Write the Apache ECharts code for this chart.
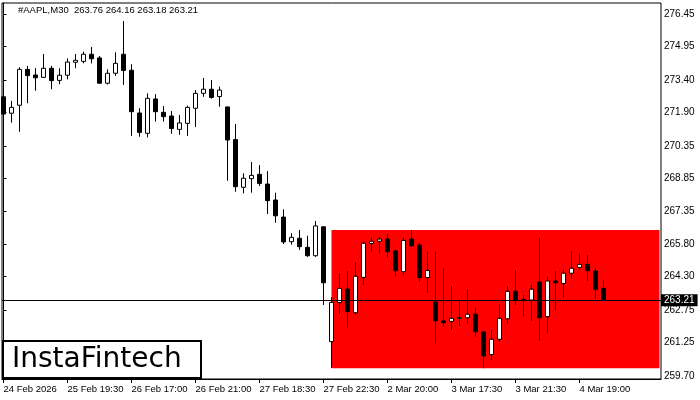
<!DOCTYPE html>
<html>
<head>
<meta charset="utf-8">
<script src="https://cdn.jsdelivr.net/npm/echarts@6/dist/echarts.min.js"></script>
<style>
  html, body { margin: 0; padding: 0; background: #fff; }
  #chart { width: 700px; height: 400px; }
</style>
</head>
<body>
<div id="chart"></div>
<script>
// AAPL M30 candles
var openPrices = [
  272.63, 271.87, 272.24, 273.90, 273.64, 273.53, 273.95, 273.39, 273.63, 274.23,
  274.27, 274.60, 274.43, 273.26, 273.72, 274.60, 273.86, 271.88, 270.94, 272.53,
  271.91, 271.74, 271.12, 271.40, 272.10, 272.79, 272.98, 272.64, 272.16, 270.65,
  268.44, 268.84, 269.04, 268.59, 267.85, 267.06, 265.92, 266.08, 265.66, 265.27,
  266.61, 261.29, 263.10, 263.72, 262.63, 264.27, 265.84, 265.94, 266.04, 265.49,
  264.53, 266.04, 265.76, 264.26, 263.13, 262.25, 262.23, 262.38, 262.40, 262.56,
  261.74, 260.69, 261.40, 262.35, 263.62, 263.24, 263.22, 264.05, 262.45, 264.10,
  263.99, 264.46, 264.73, 264.87, 264.56, 263.76
];
var highPrices = [
  272.67, 272.44, 274.00, 274.06, 273.96, 274.61, 274.06, 273.95, 274.41, 274.61,
  274.72, 274.94, 274.52, 273.90, 274.69, 276.14, 274.14, 272.10, 272.79, 272.75,
  272.20, 271.97, 271.79, 272.22, 272.94, 273.50, 273.41, 273.10, 272.18, 271.37,
  269.09, 269.61, 269.47, 269.19, 268.19, 267.42, 266.31, 266.46, 266.20, 266.88,
  266.63, 263.35, 264.46, 264.56, 264.97, 265.91, 266.11, 266.13, 266.28, 265.55,
  266.12, 266.46, 265.86, 265.47, 265.47, 264.69, 263.87, 263.22, 263.72, 262.88,
  261.78, 261.83, 263.03, 263.87, 264.61, 263.45, 263.91, 266.10, 264.30, 264.56,
  264.64, 265.49, 265.38, 265.30, 264.72, 264.16
];
var lowPrices = [
  271.32, 271.43, 271.01, 272.33, 272.91, 273.50, 272.98, 273.21, 273.44, 273.95,
  274.18, 274.18, 273.24, 273.20, 273.60, 273.18, 270.82, 270.78, 270.75, 271.48,
  271.48, 270.92, 270.87, 270.82, 271.23, 272.63, 272.54, 272.17, 268.74, 268.23,
  268.16, 268.19, 268.50, 267.20, 266.80, 265.81, 265.78, 265.54, 265.22, 265.22,
  262.99, 260.08, 262.57, 261.94, 262.53, 263.91, 265.46, 265.37, 265.19, 264.30,
  264.36, 265.69, 264.07, 263.55, 261.20, 261.98, 261.83, 262.02, 262.11, 261.52,
  260.06, 260.44, 261.29, 262.11, 262.99, 262.45, 262.25, 261.33, 261.68, 262.72,
  263.33, 264.25, 264.61, 264.10, 263.27, 263.18
];
var closePrices = [
  271.83, 272.14, 273.90, 273.61, 273.51, 273.95, 273.38, 273.63, 274.24, 274.32,
  274.60, 274.39, 273.26, 273.72, 274.18, 273.85, 271.94, 270.98, 272.56, 271.94,
  271.71, 271.16, 271.42, 272.14, 272.79, 272.98, 272.60, 272.94, 270.63, 268.47,
  268.86, 268.99, 268.62, 267.82, 267.12, 265.91, 266.12, 265.69, 265.27, 266.65,
  264.02, 263.11, 263.76, 262.68, 264.32, 265.85, 265.94, 266.04, 265.46, 264.58,
  265.98, 265.73, 264.26, 264.59, 262.26, 262.17, 262.37, 262.40, 262.56, 261.75,
  260.63, 261.40, 262.37, 263.62, 263.22, 263.21, 263.72, 262.40, 264.10, 264.02,
  264.46, 264.69, 264.87, 264.58, 263.72, 263.21
];

// time axis labels (candle index -> text)
var tickIndex = [0, 8, 16, 24, 32, 40, 48, 56, 64, 72];
var tickLabels = [
  '24 Feb 2026', '25 Feb 19:30', '26 Feb 17:00', '26 Feb 21:00', '27 Feb 18:30',
  '27 Feb 22:30', '2 Mar 20:00', '3 Mar 17:30', '3 Mar 21:30', '4 Mar 19:00'
];
var priceTicks = [259.70, 261.25, 262.75, 264.30, 265.80, 267.35, 268.85, 270.35, 271.90, 273.40, 274.95, 276.45];

var lastPrice = 263.21;
// red range box: from candle 41 to the right edge, high/low of the range
var boxFrom = 41, boxTo = 82;
var boxHigh = 266.46, boxLow = 260.06;

var candles = openPrices.map(function (o, i) {
  return [i, o, closePrices[i], lowPrices[i], highPrices[i]];
});
var labelMap = {};
tickIndex.forEach(function (t, i) { labelMap[t] = tickLabels[i]; });

var chart = echarts.init(document.getElementById('chart'));
var font = 'Liberation Sans, Arial, sans-serif';

var option = {
  animation: false,
  backgroundColor: '#fff',
  grid: {
    left: 2, right: 39, top: 3, bottom: 21,
    show: true, borderColor: '#000', borderWidth: 1, backgroundColor: '#fff',
    outerBoundsMode: 'none'
  },
  xAxis: {
    type: 'value',
    min: -0.1875,
    max: 82.1875,
    axisLine: { show: true, lineStyle: { color: '#000', width: 1 } },
    splitLine: { show: false },
    axisTick: { show: true, customValues: tickIndex, length: 4, lineStyle: { color: '#000' } },
    axisLabel: {
      customValues: tickIndex,
      formatter: function (v) { return labelMap[v] || ''; },
      align: 'left',
      margin: 5,
      color: '#000',
      fontSize: 9.5,
      fontFamily: font
    }
  },
  yAxis: {
    type: 'value',
    position: 'right',
    min: 259.561,
    max: 276.974,
    axisLine: { show: true, lineStyle: { color: '#000', width: 1 } },
    splitLine: { show: false },
    axisTick: { show: true, customValues: priceTicks, length: 3, lineStyle: { color: '#000' } },
    axisLabel: {
      customValues: priceTicks,
      formatter: function (v) { return v.toFixed(2); },
      margin: 3,
      color: '#000',
      fontSize: 10,
      fontFamily: font
    }
  },
  graphic: [
    {
      type: 'text', left: 18, top: 5,
      style: { text: '#AAPL,M30  263.76 264.16 263.18 263.21', fill: '#000', font: '9.5px ' + font }
    },
    {
      type: 'rect', shape: { x: 3, y: 341, width: 198, height: 37 },
      style: { fill: '#fff', stroke: '#000', lineWidth: 2 }, z: 10
    },
    {
      type: 'text', x: 12, y: 360, z: 11,
      style: { text: 'InstaFintech', fill: '#000', font: '28px DejaVu Sans, sans-serif', textVerticalAlign: 'middle' }
    }
  ],
  series: [{
    type: 'candlestick',
    data: candles,
    barWidth: 5,
    itemStyle: {
      color: '#fff', color0: '#000',
      borderColor: '#000', borderColor0: '#000', borderWidth: 1
    },
    markArea: {
      silent: true,
      itemStyle: { color: '#ff0000', opacity: 1 },
      data: [[{ xAxis: boxFrom, yAxis: boxHigh }, { xAxis: boxTo, yAxis: boxLow }]]
    },
    markLine: {
      silent: true,
      symbol: 'none',
      lineStyle: { color: '#000', width: 1, type: 'solid' },
      label: {
        position: 'end',
        distance: 0,
        formatter: lastPrice.toFixed(2),
        backgroundColor: '#000',
        color: '#fff',
        padding: [1, 3],
        fontSize: 10,
        fontFamily: font
      },
      data: [{ yAxis: lastPrice }]
    }
  }]
};
chart.setOption(option);
</script>
</body>
</html>
